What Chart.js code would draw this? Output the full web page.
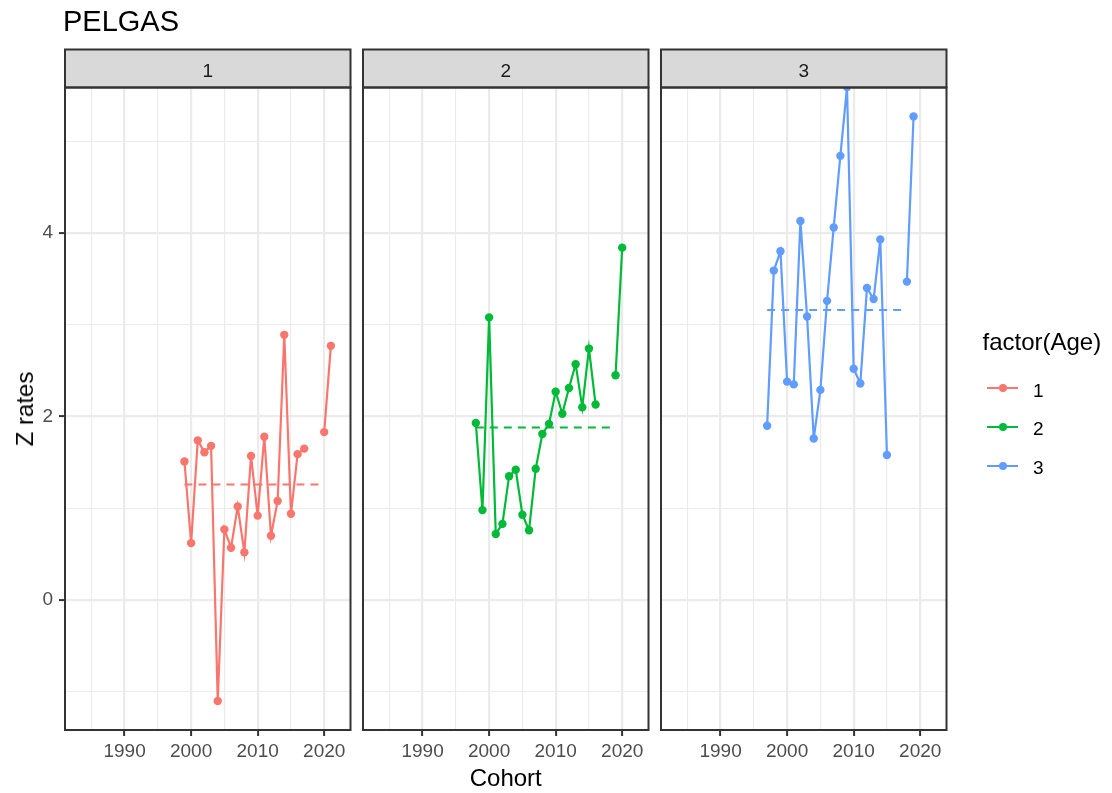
<!DOCTYPE html>
<html>
<head>
<meta charset="utf-8">
<title>PELGAS</title>
<script src="https://cdn.jsdelivr.net/npm/chart.js@4.4.0/dist/chart.umd.min.js"></script>
<style>
  html, body { margin: 0; padding: 0; background: #ffffff; }
  #wrap { position: relative; width: 1112px; height: 793px; overflow: hidden;
          font-family: "Liberation Sans", Arial, sans-serif; }
  #wrap canvas { position: absolute; left: 0; top: 0; }
  .txt { position: absolute; white-space: nowrap; line-height: 1; z-index: 5; }
  .key { position: absolute; z-index: 5; }
</style>
</head>
<body>
<div id="wrap">
  <canvas id="panel1" width="1112" height="793"></canvas>
  <canvas id="panel2" width="1112" height="793"></canvas>
  <canvas id="panel3" width="1112" height="793"></canvas>
</div>
<script>
// ---- data --------------------------------------------------------------
const cohorts = [1997, 1998, 1999, 2000, 2001, 2002, 2003, 2004, 2005, 2006,
                 2007, 2008, 2009, 2010, 2011, 2012, 2013, 2014, 2015, 2016,
                 2017, 2018, 2019, 2020, 2021];

const zAge1 = [null, null, 1.51, 0.62, 1.74, 1.61, 1.68, -1.10, 0.77, 0.57,
               1.02, 0.52, 1.57, 0.92, 1.78, 0.70, 1.08, 2.89, 0.94, 1.59,
               1.65, null, null, 1.83, 2.77];
const zAge2 = [null, 1.93, 0.98, 3.08, 0.72, 0.83, 1.35, 1.42, 0.93, 0.76,
               1.43, 1.81, 1.92, 2.27, 2.03, 2.31, 2.57, 2.10, 2.74, 2.13,
               null, null, 2.45, 3.84, null];
const zAge3 = [1.90, 3.59, 3.80, 2.38, 2.35, 4.13, 3.09, 1.76, 2.29, 3.26,
               4.06, 4.84, 5.59, 2.52, 2.36, 3.40, 3.28, 3.93, 1.58, null,
               null, 3.47, 5.27, null, null];

// mean Z per age, drawn as a dashed reference segment
const meanZ    = [1.26, 1.88, 3.16];
const meanFrom = [1999, 1998, 1997];
const meanTo   = [2020, 2019, 2018];

const ages       = ['1', '2', '3'];
const ageSeries  = [zAge1, zAge2, zAge3];
const ageColours = ['#F8766D', '#00BA38', '#619CFF'];

// axis ticks (labelled) and minor grid positions
const xMajor = [1990, 2000, 2010, 2020];
const xMinor = [1985, 1995, 2005, 2015];
const yMajor = [0, 2, 4];
const yMinor = [-1, 1, 3, 5];
const xLimits = [1981.05, 2023.95];
const yLimits = [-1.416, 5.585];

// ---- layout ------------------------------------------------------------
const W = 1112, H = 793;
const panelLeft = [65, 363, 661];
const panelWidth = 285.5;
const panelTop = 87.5;
const panelBottom = 730;
const stripTop = 49.5;
const FONT = '"Liberation Sans", Arial, sans-serif';

// strip boxes and panel frames
const facetFrame = {
  id: 'facetFrame',
  afterDraw(chart) {
    const { ctx, chartArea: a } = chart;
    ctx.save();
    ctx.fillStyle = '#D9D9D9';
    ctx.fillRect(a.left, stripTop, a.right - a.left, a.top - stripTop);
    ctx.strokeStyle = '#333333';
    ctx.lineWidth = 2;
    ctx.strokeRect(a.left, stripTop, a.right - a.left, a.top - stripTop);
    ctx.strokeRect(a.left, a.top, a.right - a.left, a.bottom - a.top);
    ctx.restore();
  }
};

const isMajor = (list, v) => list.includes(v);

function makePanel(i) {
  const showY = i === 0;
  const yAxisWidth = showY ? panelLeft[0] : 0;
  const colour = ageColours[i];
  const series = cohorts.map((c, k) => ({ x: c, y: ageSeries[i][k] }));
  const meanLine = [{ x: meanFrom[i], y: meanZ[i] }, { x: meanTo[i], y: meanZ[i] }];

  return new Chart(document.getElementById('panel' + (i + 1)), {
    type: 'line',
    data: {
      datasets: [
        {
          label: ages[i],
          data: series,
          borderColor: colour,
          backgroundColor: colour,
          borderWidth: 2.2,
          pointRadius: 4.2,
          pointBorderWidth: 0,
          pointBackgroundColor: colour,
          spanGaps: false,
          tension: 0,
          clip: 0
        },
        {
          label: 'mean ' + ages[i],
          data: meanLine,
          borderColor: colour,
          borderWidth: 2,
          borderDash: [8, 6],
          pointRadius: 0,
          tension: 0,
          clip: 0
        }
      ]
    },
    options: {
      responsive: false,
      animation: false,
      events: [],
      layout: {
        autoPadding: false,
        padding: {
          left: panelLeft[i] - yAxisWidth,
          right: W - panelLeft[i] - panelWidth,
          top: panelTop,
          bottom: 0
        }
      },
      plugins: { legend: { display: false }, tooltip: { enabled: false }, title: { display: false } },
      scales: {
        x: {
          type: 'linear',
          position: 'bottom',
          min: xLimits[0],
          max: xLimits[1],
          afterBuildTicks: s => {
            s.ticks = [...xMinor, ...xMajor].sort((a, b) => a - b).map(v => ({ value: v }));
          },
          afterFit: s => { s.height = H - panelBottom; },
          border: { display: false },
          grid: {
            drawTicks: true,
            tickLength: 6,
            color: '#EBEBEB',
            lineWidth: c => isMajor(xMajor, c.tick && c.tick.value) ? 2.2 : 1.1,
            tickColor: c => isMajor(xMajor, c.tick && c.tick.value) ? '#333333' : 'rgba(0,0,0,0)',
            tickWidth: 2
          },
          ticks: {
            autoSkip: false,
            maxRotation: 0,
            padding: 4,
            color: '#4D4D4D',
            font: { family: FONT, size: 19 },
            callback: v => isMajor(xMajor, v) ? String(v) : ''
          }
        },
        y: {
          type: 'linear',
          position: 'left',
          min: yLimits[0],
          max: yLimits[1],
          afterBuildTicks: s => {
            s.ticks = [...yMinor, ...yMajor].sort((a, b) => a - b).map(v => ({ value: v }));
          },
          afterFit: s => { s.width = yAxisWidth; },
          border: { display: false },
          grid: {
            drawTicks: showY,
            tickLength: 6,
            color: '#EBEBEB',
            lineWidth: c => isMajor(yMajor, c.tick && c.tick.value) ? 2.2 : 1.1,
            tickColor: c => isMajor(yMajor, c.tick && c.tick.value) ? '#333333' : 'rgba(0,0,0,0)',
            tickWidth: 2
          },
          ticks: {
            display: showY,
            autoSkip: false,
            padding: 6,
            color: '#4D4D4D',
            font: { family: FONT, size: 19 },
            callback: v => isMajor(yMajor, v) ? String(v) : ''
          }
        }
      }
    },
    plugins: [facetFrame]
  });
}

ages.forEach((_, i) => makePanel(i));

// ---- text and legend ---------------------------------------------------
const wrap = document.getElementById('wrap');
// place text so that its baseline sits at `base` (Liberation Sans metrics)
function addText(str, size, colour, x, base, align) {
  const d = document.createElement('div');
  d.className = 'txt';
  d.textContent = str;
  d.style.fontSize = size + 'px';
  d.style.color = colour;
  d.style.top = (base - 0.8465 * size) + 'px';
  d.style.left = x + 'px';
  if (align === 'center') d.style.transform = 'translateX(-50%)';
  wrap.appendChild(d);
  return d;
}

addText('PELGAS', 29, '#000000', 63, 32, 'left');
ages.forEach((a, i) => addText(a, 19, '#1A1A1A', panelLeft[i] + panelWidth / 2, 77, 'center'));
addText('Cohort', 24, '#000000', (panelLeft[0] + panelLeft[2] + panelWidth) / 2, 786, 'center');

const yTitle = document.createElement('div');
yTitle.className = 'txt';
yTitle.textContent = 'Z rates';
yTitle.style.fontSize = '24px';
yTitle.style.color = '#000000';
yTitle.style.left = '24.8px';
yTitle.style.top = ((panelTop + panelBottom) / 2) + 'px';
yTitle.style.transform = 'translate(-50%, -50%) rotate(-90deg)';
wrap.appendChild(yTitle);

addText('factor(Age)', 24, '#000000', 982.5, 350, 'left');
const keyRows = [388.3, 427, 465.7];
ages.forEach((a, i) => {
  const line = document.createElement('div');
  line.className = 'key';
  Object.assign(line.style, {
    left: '987px', top: (keyRows[i] - 1.1) + 'px', width: '31px', height: '2.2px',
    background: ageColours[i]
  });
  wrap.appendChild(line);
  const dot = document.createElement('div');
  dot.className = 'key';
  Object.assign(dot.style, {
    left: (1002.5 - 4) + 'px', top: (keyRows[i] - 4) + 'px', width: '8px', height: '8px',
    borderRadius: '50%', background: ageColours[i]
  });
  wrap.appendChild(dot);
  addText(a, 19, '#000000', 1033, keyRows[i] + 8.5, 'left');
});
</script>
</body>
</html>
